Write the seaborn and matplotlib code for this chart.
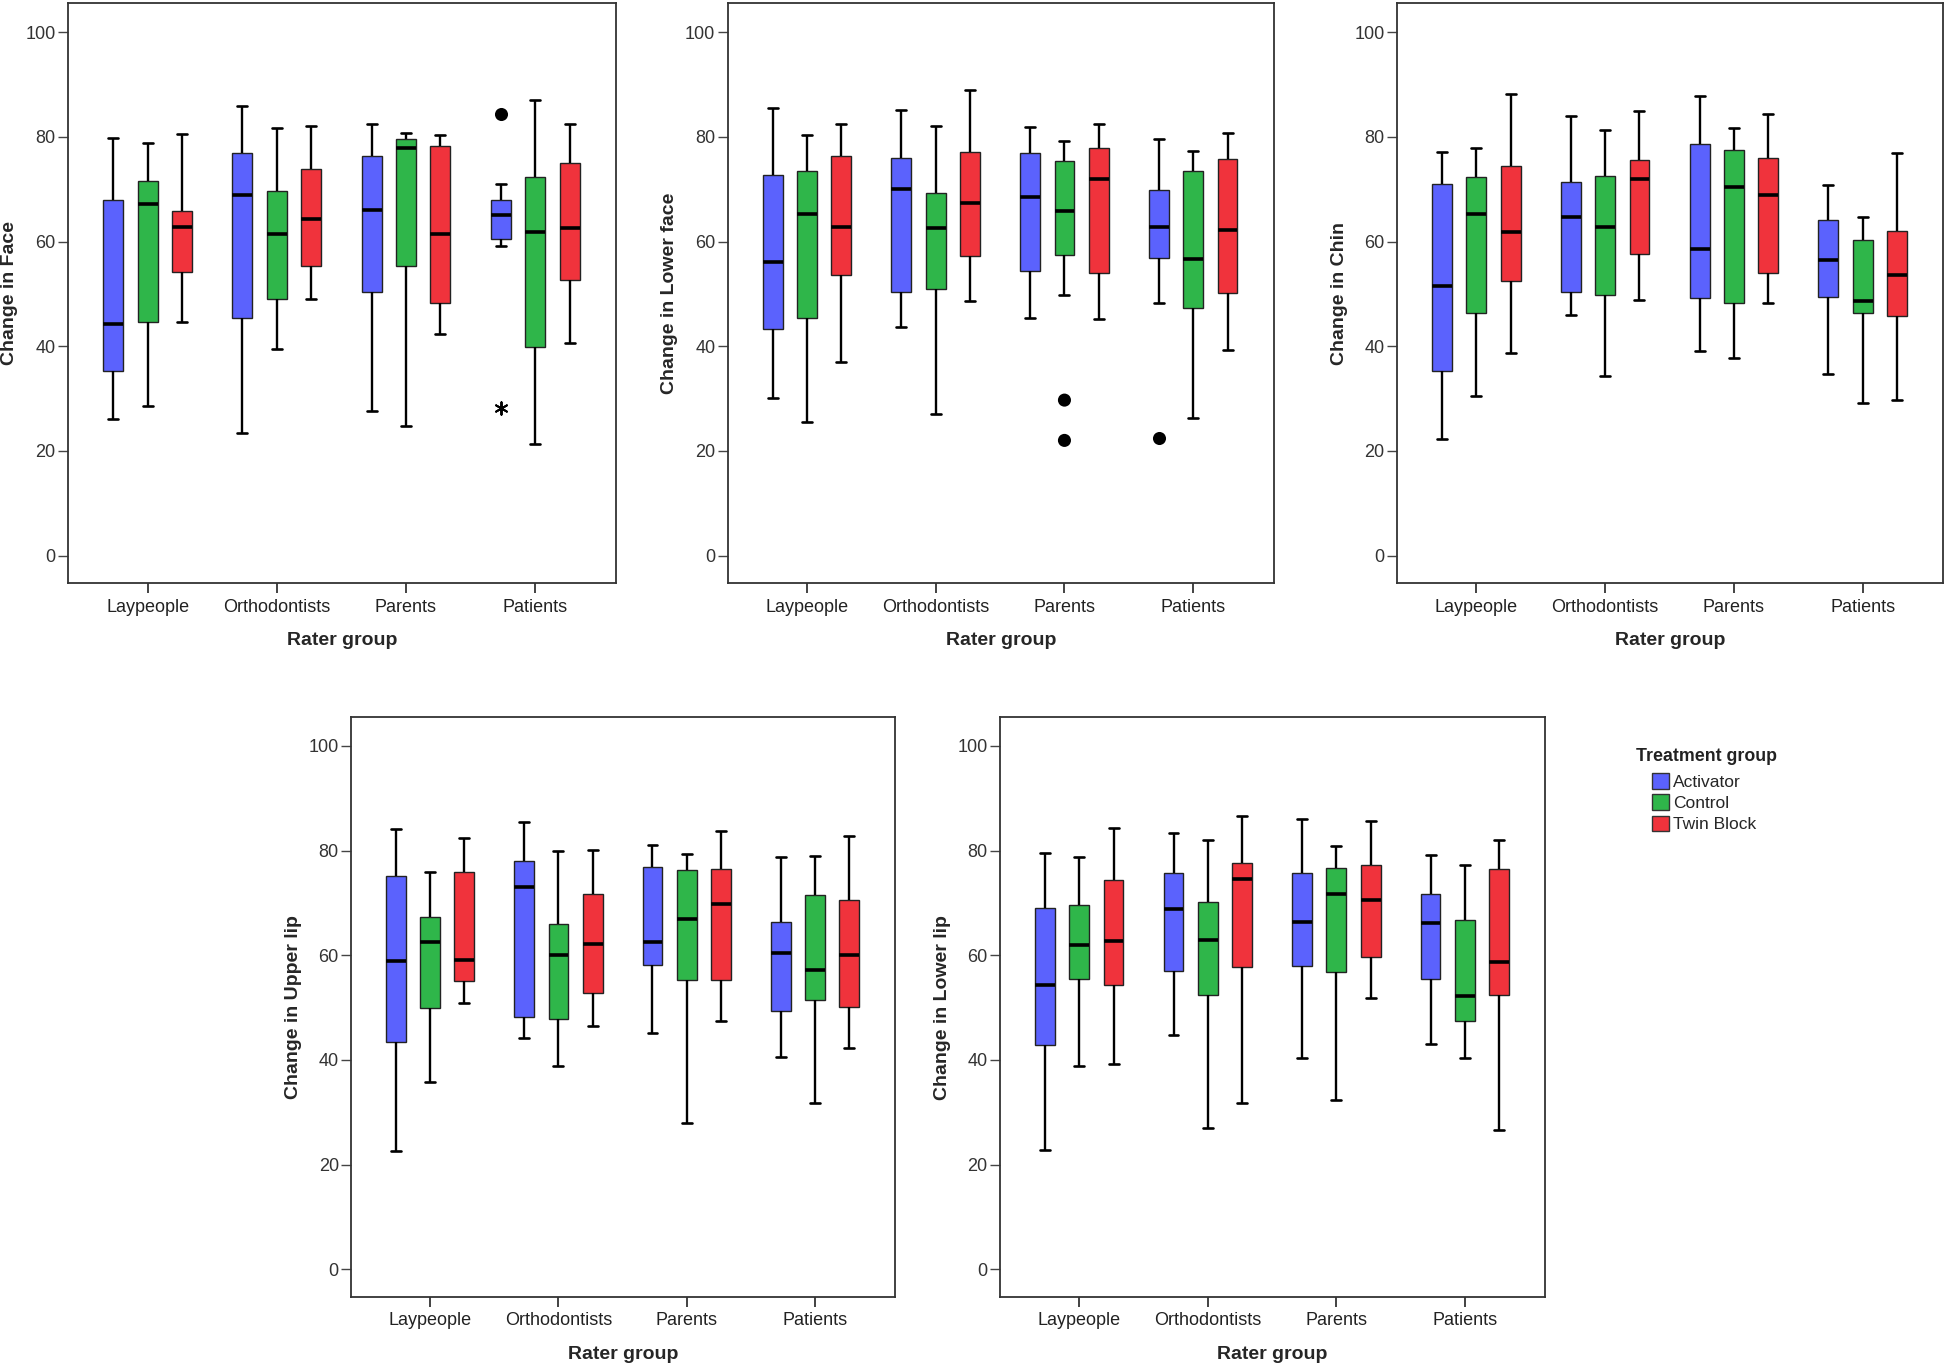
import numpy as np
import pandas as pd
import matplotlib
matplotlib.use("Agg")
import matplotlib.pyplot as plt
from matplotlib.patches import Patch
import seaborn as sns

raters = ["Laypeople", "Orthodontists", "Parents", "Patients"]
treatments = ["Activator", "Control", "Twin Block"]
colors = ["#5b62fd", "#2fb64a", "#f0333c"]

# five-number summaries (min, q1, median, q3, max) per rater group
face_act = [(26.1, 35.2, 44.3, 67.9, 79.8), (23.4, 45.3, 68.9, 76.9, 85.9),
            (27.6, 50.3, 66.0, 76.4, 82.4), (59.2, 60.5, 65.1, 68.0, 71.0)]
face_ctl = [(28.6, 44.6, 67.1, 71.6, 78.9), (39.5, 49.0, 61.4, 69.6, 81.6),
            (24.7, 55.4, 77.8, 79.6, 80.8), (21.3, 39.9, 61.8, 72.4, 87.1)]
face_twb = [(44.7, 54.2, 62.7, 65.9, 80.6), (49.0, 55.4, 64.3, 73.8, 82.1),
            (42.3, 48.2, 61.5, 78.2, 80.3), (40.6, 52.7, 62.6, 75.0, 82.5)]

lowface_act = [(30.1, 43.3, 56.1, 72.7, 85.6), (43.6, 50.3, 70.1, 75.9, 85.2),
               (45.3, 54.3, 68.5, 76.9, 81.9), (48.3, 56.9, 62.7, 69.8, 79.6)]
lowface_ctl = [(25.5, 45.3, 65.2, 73.4, 80.4), (27.1, 51.0, 62.5, 69.2, 82.0),
               (49.8, 57.4, 65.8, 75.3, 79.2), (26.2, 47.3, 56.7, 73.4, 77.3)]
lowface_twb = [(37.0, 53.6, 62.8, 76.4, 82.4), (48.6, 57.2, 67.4, 77.1, 89.0),
               (45.2, 54.0, 72.0, 77.8, 82.4), (39.3, 50.1, 62.3, 75.7, 80.8)]

chin_act = [(22.2, 35.2, 51.5, 70.9, 77.1), (45.9, 50.3, 64.7, 71.4, 83.9),
            (39.1, 49.2, 58.6, 78.7, 87.8), (34.6, 49.4, 56.5, 64.1, 70.8)]
chin_ctl = [(30.4, 46.4, 65.3, 72.4, 77.8), (34.3, 49.8, 62.7, 72.6, 81.4),
            (37.8, 48.3, 70.4, 77.4, 81.7), (29.2, 46.3, 48.7, 60.2, 64.7)]
chin_twb = [(38.7, 52.5, 61.8, 74.4, 88.2), (48.8, 57.7, 71.9, 75.5, 85.0),
            (48.3, 53.9, 68.9, 75.9, 84.3), (29.8, 45.7, 53.6, 62.0, 77.0)]

uplip_act = [(22.6, 43.5, 58.9, 75.1, 84.2), (44.2, 48.3, 73.0, 78.1, 85.4),
             (45.2, 58.2, 62.6, 76.8, 81.0), (40.5, 49.4, 60.5, 66.3, 78.7)]
uplip_ctl = [(35.8, 49.9, 62.5, 67.4, 75.9), (38.8, 47.8, 60.1, 65.9, 80.0),
             (28.0, 55.3, 66.9, 76.3, 79.4), (31.7, 51.5, 57.1, 71.6, 78.9)]
uplip_twb = [(50.9, 55.0, 59.1, 76.0, 82.4), (46.4, 52.7, 62.2, 71.8, 80.1),
             (47.4, 55.3, 69.8, 76.4, 83.8), (42.3, 50.1, 60.1, 70.6, 82.8)]

lowlip_act = [(22.8, 42.8, 54.3, 69.1, 79.5), (44.8, 56.9, 68.9, 75.7, 83.4),
              (40.4, 58.0, 66.4, 75.8, 86.1), (43.0, 55.4, 66.2, 71.7, 79.2)]
lowlip_ctl = [(38.9, 55.5, 62.0, 69.6, 78.7), (27.0, 52.5, 62.9, 70.1, 82.0),
              (32.3, 56.8, 71.8, 76.6, 80.8), (40.4, 47.4, 52.3, 66.8, 77.3)]
lowlip_twb = [(39.2, 54.3, 62.7, 74.4, 84.3), (31.8, 57.8, 74.6, 77.6, 86.7),
              (51.8, 59.7, 70.6, 77.3, 85.7), (26.6, 52.4, 58.8, 76.5, 82.0)]

# outliers: (rater, treatment, value, kind)  "o" = outlier, "*" = extreme
face_out = [("Patients", "Activator", 84.3, "o"), ("Patients", "Activator", 28.2, "*")]
lowface_out = [("Parents", "Control", 29.7, "o"), ("Parents", "Control", 22.0, "o"),
               ("Patients", "Activator", 22.4, "o")]

panels = [
    ("Change in Face", [face_act, face_ctl, face_twb], face_out),
    ("Change in Lower face", [lowface_act, lowface_ctl, lowface_twb], lowface_out),
    ("Change in Chin", [chin_act, chin_ctl, chin_twb], []),
    ("Change in Upper lip", [uplip_act, uplip_ctl, uplip_twb], []),
    ("Change in Lower lip", [lowlip_act, lowlip_ctl, lowlip_twb], []),
]

positions = [
    [0.035, 0.573, 0.2815, 0.4245],
    [0.374, 0.573, 0.2805, 0.4245],
    [0.718, 0.573, 0.2805, 0.4245],
    [0.1805, 0.0505, 0.2795, 0.4245],
    [0.514, 0.0505, 0.2800, 0.4245],
]

sns.set_theme(style="ticks")
plt.rcParams["font.family"] = ["Liberation Sans", "DejaVu Sans"]

fig = plt.figure(figsize=(19.46, 13.66), dpi=100)

for (label, series, outliers), pos in zip(panels, positions):
    ax = fig.add_axes(pos)
    rows = []
    for treat, boxes in zip(treatments, series):
        for rater, five in zip(raters, boxes):
            for v in five:
                rows.append((rater, treat, v))
    df = pd.DataFrame(rows, columns=["rater", "treatment", "value"])

    sns.boxplot(data=df, x="rater", y="value", hue="treatment",
                order=raters, hue_order=treatments, palette=colors,
                saturation=1, width=0.8, gap=0.42, whis=(0, 100),
                linecolor="#222222", linewidth=1.0, legend=False, ax=ax,
                medianprops=dict(color="black", linewidth=2.6),
                whiskerprops=dict(color="black", linewidth=1.7),
                capprops=dict(color="black", linewidth=1.9))

    if outliers:
        odf = pd.DataFrame(outliers, columns=["rater", "treatment", "value", "kind"])
        for kind, mk, sz in [("o", "o", 8), ("*", (6, 2, 0), 9)]:
            sub = odf[odf["kind"] == kind]
            if sub.empty:
                continue
            sns.stripplot(data=sub, x="rater", y="value", hue="treatment",
                          order=raters, hue_order=treatments,
                          palette=["black"] * 3, dodge=True, jitter=False,
                          marker=mk, size=sz, linewidth=1.4, edgecolor="black",
                          legend=False, ax=ax)

    ax.set_xlim(-0.615, 3.625)
    ax.set_ylim(-5.3, 105.5)
    ax.set_yticks([0, 20, 40, 60, 80, 100])
    ax.set_xlabel("Rater group", fontsize=14, fontweight="bold", labelpad=12)
    ax.set_ylabel(label, fontsize=14, fontweight="bold", labelpad=5)
    ax.tick_params(axis="x", length=7, width=1.2, pad=4, labelsize=13,
                   color="#222222", labelcolor="#222222")
    ax.tick_params(axis="y", length=7, width=1.0, pad=2, labelsize=13,
                   color="#444444", labelcolor="#333333")
    for sp in ax.spines.values():
        sp.set_visible(True)
        sp.set_color("#333333")
        sp.set_linewidth(1.3)

# legend: bold title on its own, colour keys indented beneath it
fig.text(0.8405, 0.4525, "Treatment group", ha="left", va="top",
         fontsize=12.8, fontweight="bold", color="#222222")
handles = [Patch(facecolor=c, edgecolor="#333333", linewidth=1.0) for c in colors]
fig.legend(handles, treatments, loc="upper left",
           bbox_to_anchor=(0.8490, 0.4340), frameon=False, fontsize=12.5,
           borderpad=0, handlelength=0.95, handleheight=1.0,
           handletextpad=0.25, labelspacing=0.26, borderaxespad=0)

fig.savefig("out.png", dpi=100)
plt.close(fig)
